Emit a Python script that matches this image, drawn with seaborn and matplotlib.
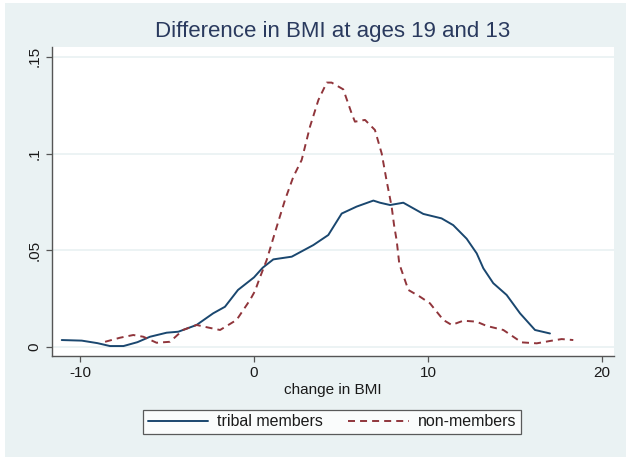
import numpy as np
import pandas as pd
import matplotlib
matplotlib.use("Agg")
import matplotlib.pyplot as plt
import seaborn as sns
from matplotlib.patches import Rectangle

# ---- data ----
title = "Difference in BMI at ages 19 and 13"
xlabel = "change in BMI"
series_names = ["tribal members", "non-members"]

tribal_x = [-11.05, -9.9, -9.0, -8.28, -7.5, -6.7, -5.98, -5.02, -4.35, -3.3, -2.35,
            -1.67, -0.92, 0.0, 0.5, 1.11, 2.17, 3.41, 4.27, 5.04, 5.9, 6.86, 7.24,
            7.82, 8.58, 9.73, 10.78, 11.45, 12.22, 12.8, 13.18, 13.75, 14.52, 15.29,
            16.15, 17.01]
tribal_y = [0.0036, 0.0033, 0.0020, 0.0005, 0.0005, 0.0025, 0.0053, 0.0074, 0.0079,
            0.0114, 0.0174, 0.0208, 0.0295, 0.0360, 0.0410, 0.0453, 0.0467, 0.0527,
            0.0579, 0.0690, 0.0726, 0.0757, 0.0746, 0.0734, 0.0746, 0.0688, 0.0665,
            0.0630, 0.0560, 0.0484, 0.0407, 0.0330, 0.0269, 0.0174, 0.0088, 0.0070]

non_x = [-8.56, -7.7, -6.94, -6.36, -5.6, -4.83, -4.08, -3.3, -2.6, -1.95, -1.0,
         -0.23, 0.06, 0.3, 0.73, 1.30, 1.78, 2.26, 2.74, 3.22, 3.70, 4.18, 4.46,
         5.13, 5.61, 5.80, 6.38, 6.95, 7.34, 7.62, 7.91, 8.05, 8.2, 8.35, 8.87,
         9.54, 10.11, 10.88, 11.36, 12.03, 12.79, 13.37, 14.33, 15.38, 16.25,
         17.0, 17.68, 18.35]
non_y = [0.0027, 0.0048, 0.0062, 0.0053, 0.0022, 0.0027, 0.0088, 0.0114, 0.0100,
         0.0088, 0.0140, 0.0243, 0.0290, 0.0350, 0.0450, 0.0620, 0.0760, 0.0880,
         0.0967, 0.1140, 0.1277, 0.1367, 0.1367, 0.1332, 0.1208, 0.1165, 0.1174,
         0.1122, 0.1000, 0.0860, 0.0726, 0.0630, 0.0550, 0.0430, 0.0295, 0.0260,
         0.0226, 0.0140, 0.0114, 0.0136, 0.0131, 0.0109, 0.0088, 0.0024, 0.0019,
         0.0031, 0.0041, 0.0036]

xticks = [-10, 0, 10, 20]
xtick_labels = ["-10", "0", "10", "20"]
yticks = [0, 0.05, 0.1, 0.15]
ytick_labels = ["0", ".05", ".1", ".15"]

# ---- styling ----
BG = "#eaf2f3"
NAVY = "#1a476f"
MAROON = "#90353b"
TEXT = "#1a1a1a"

sns.set_theme(style="white")
plt.rcParams["font.family"] = ["Liberation Sans", "DejaVu Sans"]

fig = plt.figure(figsize=(6.26, 4.57), dpi=100, facecolor="white")
fig.patches.append(Rectangle((5 / 626, 0), 1 - 5 / 626, 1 - 3 / 457,
                             transform=fig.transFigure, facecolor=BG,
                             edgecolor="none", zorder=-10))
ax = fig.add_axes([52 / 626, 1 - 356 / 457, 562 / 626, 309 / 457])
ax.set_facecolor("white")

df = pd.concat([
    pd.DataFrame({"x": tribal_x, "y": tribal_y, "group": series_names[0]}),
    pd.DataFrame({"x": non_x, "y": non_y, "group": series_names[1]}),
], ignore_index=True)

sns.lineplot(data=df, x="x", y="y", hue="group", style="group",
             palette={series_names[0]: NAVY, series_names[1]: MAROON},
             dashes={series_names[0]: "", series_names[1]: (3.6, 2.6)},
             estimator=None, sort=False, linewidth=1.4, legend=False, ax=ax)

ax.set_xlim(-11.61, 20.69)
ax.set_ylim(-0.00465, 0.1551)
ax.set_xticks(xticks)
ax.set_xticklabels(xtick_labels)
ax.set_yticks(yticks)
ax.set_yticklabels(ytick_labels, rotation=90, va="center")

ax.yaxis.grid(True, color=BG, linewidth=1.3)
ax.xaxis.grid(False)
ax.set_axisbelow(True)

for s in ["top", "right"]:
    ax.spines[s].set_visible(False)
for s in ["left", "bottom"]:
    ax.spines[s].set_color("#555555")
    ax.spines[s].set_linewidth(1.0)

ax.tick_params(axis="both", which="major", direction="out", length=4.5,
               width=0.9, color="#555555", labelsize=11, labelcolor=TEXT,
               left=True, bottom=True, pad=3)

ax.set_xlabel(xlabel, fontsize=11, color=TEXT, labelpad=2)
ax.set_ylabel("")
ax.set_title(title, fontsize=16, color="#2a3a5e", pad=7)

handles = ax.get_lines()[:2]
leg = fig.legend(handles, series_names, loc="center",
                 bbox_to_anchor=(332 / 626, 1 - 422 / 457), ncol=2,
                 fontsize=11.5, frameon=True, fancybox=False, edgecolor="#333333",
                 facecolor="white", handlelength=3.8, handletextpad=0.55,
                 columnspacing=1.6, borderpad=0.3)
leg.get_frame().set_linewidth(0.9)
for t in leg.get_texts():
    t.set_color(TEXT)

fig.savefig("out.png", dpi=100, facecolor=fig.get_facecolor())
